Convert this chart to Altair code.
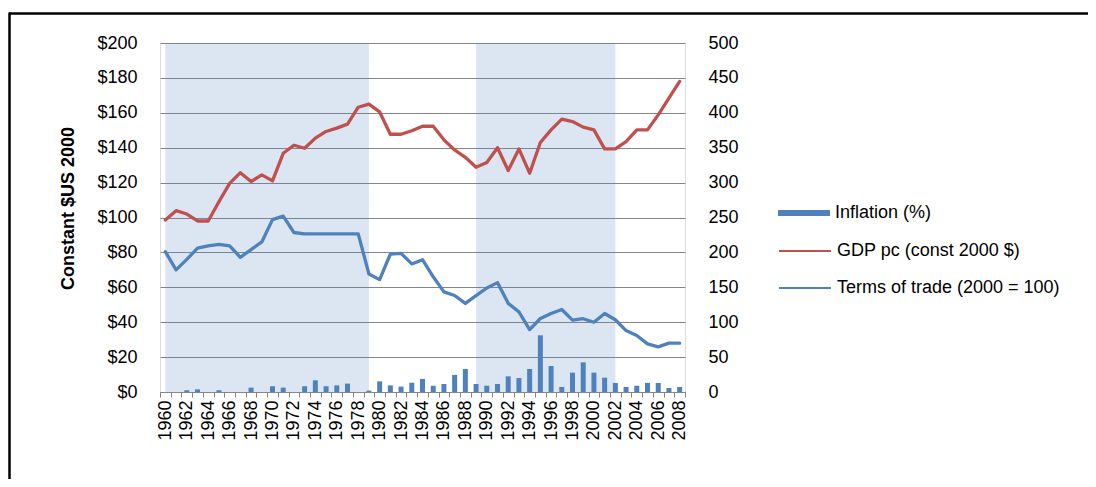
import altair as alt
import pandas as pd

# ---------------- data ----------------
years = list(range(1960, 2009))

gdp_pc = [98.6, 103.9, 102.0, 98.0, 98.0, 109.0, 119.6, 125.7, 120.6, 124.4,
          121.0, 136.8, 141.4, 139.7, 145.5, 149.3, 151.2, 153.5, 163.2, 165.0,
          160.5, 147.7, 147.7, 149.7, 152.3, 152.3, 144.5, 138.7, 134.5, 128.8,
          131.5, 140.0, 126.9, 139.3, 125.4, 143.0, 150.2, 156.4, 155.0, 151.8,
          150.2, 139.3, 139.3, 143.5, 150.2, 150.2, 158.8, 168.4, 178.0]

terms_of_trade = [201, 175, 190, 206, 209.5, 211.5, 209.5, 193, 204, 215,
                  247, 252, 228.5, 226.5, 226.5, 226.5, 226.5, 226.5, 226.5, 169,
                  161, 197.6, 198.6, 183.5, 189.5, 165, 143.5, 138.3, 127, 138,
                  149, 156.7, 127, 114.8, 89.5, 105.3, 112.5, 118.2, 103, 105,
                  100, 112.5, 103.5, 88, 81, 69, 64.6, 70, 70]

inflation = [0, 0, 1.0, 1.5, 0, 1.0, 0, 0, 2.5, 0,
             3.3, 2.5, 0, 3.3, 6.7, 3.3, 3.8, 4.8, 0, 0.8,
             6.1, 3.8, 3.1, 5.3, 7.5, 3.6, 4.6, 9.8, 13.2, 4.6,
             3.6, 4.6, 9.0, 8.0, 13.2, 32.5, 14.9, 2.9, 11.1, 17.0,
             11.1, 8.2, 5.2, 2.9, 3.6, 5.2, 5.2, 2.3, 2.9]

shade_start = [1960, 1989]
shade_end = [1979, 2002]

left_ticks = list(range(0, 201, 20))
right_ticks = list(range(0, 501, 50))

series_names = ["Inflation (%)", "GDP pc (const 2000 $)", "Terms of trade (2000 = 100)"]
series_colors = ["#4F81BD", "#C0504D", "#4F81BD"]

# ---------------- tables ----------------
df = pd.DataFrame({
    "year": years,
    "gdp": gdp_pc,
    "tot": terms_of_trade,
    "infl": inflation,
    "s_infl": series_names[0],
    "s_gdp": series_names[1],
    "s_tot": series_names[2],
})
shade_df = pd.DataFrame({"start": shade_start, "end": shade_end})
frame_df = pd.DataFrame({"k": [0]})

W, H = 525, 349
FONT = "Liberation Sans"
GRID = "#868686"
FS = 18

x_enc = alt.X(
    "year:O", title=None,
    scale=alt.Scale(paddingInner=0, paddingOuter=0),
    axis=alt.Axis(labelAngle=270, labelAlign="right", labelBaseline="middle",
                  labelPadding=3, labelOverlap=False,
                  labelExpr="datum.value % 2 == 0 ? datum.label : ''",
                  tickBand="extent", tickSize=5, tickColor=GRID, domainColor=GRID,
                  labelFontSize=FS, labelFont=FONT, labelColor="black", grid=False),
)

left_axis = alt.Axis(values=left_ticks, labelExpr="'$' + datum.value",
                     grid=True, gridColor=GRID, gridWidth=1, domain=False, ticks=False,
                     labelPadding=23, labelFontSize=FS, labelFont=FONT, labelColor="black",
                     title="Constant $US 2000", titleFontSize=FS, titleFont=FONT,
                     titleFontWeight="bold", titleColor="black",
                     titleX=-92, titleY=165, titleAngle=270,
                     titleAlign="center", titleBaseline="middle")

right_axis = alt.Axis(values=right_ticks, orient="right", grid=False, domain=False,
                      ticks=False, labelPadding=23, labelAlign="left",
                      labelFontSize=FS, labelFont=FONT, labelColor="black", title=None)

left_scale = alt.Scale(domain=[0, 200], nice=False)
right_scale = alt.Scale(domain=[0, 500], nice=False)


def legend(y, symbol, stroke_w):
    return alt.Legend(orient="none", legendX=618, legendY=y, title=None,
                      symbolType=symbol, symbolSize=2704, symbolStrokeWidth=stroke_w,
                      labelFontSize=FS, labelFont=FONT, labelColor="black",
                      labelOffset=5, labelLimit=400, padding=0)


bars = alt.Chart(df).mark_bar(size=5).encode(
    x=x_enc,
    y=alt.Y("infl:Q", scale=left_scale, axis=left_axis),
    fill=alt.Fill("s_infl:N", scale=alt.Scale(range=[series_colors[0]]),
                  legend=legend(144, "M-1,-0.115H1V0.115H-1Z", 0)),
)

gdp_line = alt.Chart(df).mark_line(strokeWidth=3.3, strokeJoin="round", strokeCap="round").encode(
    x=x_enc,
    y=alt.Y("gdp:Q", scale=left_scale, axis=left_axis),
    stroke=alt.Stroke("s_gdp:N", scale=alt.Scale(range=[series_colors[1]]),
                      legend=legend(181, "stroke", 2)),
)

tot_line = alt.Chart(df).mark_line(strokeWidth=3.3, strokeJoin="round", strokeCap="round").encode(
    x=x_enc,
    y=alt.Y("tot:Q", scale=right_scale, axis=right_axis),
    color=alt.Color("s_tot:N", scale=alt.Scale(range=[series_colors[2]]),
                    legend=legend(218, "stroke", 2)),
)

shade = alt.Chart(shade_df).mark_rect(color="#4F81BD", opacity=0.2).encode(
    x=alt.X("start:Q", scale=alt.Scale(domain=[1959.5, 2008.5], nice=False, zero=False), axis=None),
    x2="end:Q",
    y=alt.value(0),
    y2=alt.value(H),
)

frame_top = alt.Chart(frame_df).mark_rule(color="black", strokeWidth=2.5).encode(
    x=alt.value(-151), x2=alt.value(940), y=alt.value(-29.5))
frame_left = alt.Chart(frame_df).mark_rule(color="black", strokeWidth=2.5).encode(
    x=alt.value(-150.5), y=alt.value(-30.5), y2=alt.value(450))

left_layer = alt.layer(bars, gdp_line)
inner = alt.layer(left_layer, tot_line).resolve_scale(y="independent")

chart = alt.layer(shade, inner, frame_top, frame_left).resolve_scale(
    x="independent"
).properties(
    width=W, height=H,
    autosize=alt.AutoSizeParams(type="none"),
    padding={"left": 152, "top": 35, "right": 403, "bottom": 87},
).configure_view(stroke=None).configure(font=FONT)

chart.save("out.html", embed_options={"renderer": "svg", "actions": False})
